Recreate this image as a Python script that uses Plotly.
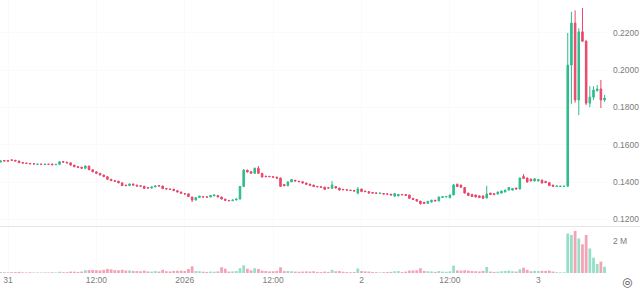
import pandas as pd
import plotly.graph_objects as go

start_time = "2025-12-30 23:00"
interval = "30min"

opens = [.1508,.1516,.1515,.1519,.1517,.1513,.1505,.1502,.1500,.1498,.1495,.1496,.1494,.1496,.1497,.1493,.1495,.1510,.1507,.1503,
         .1491,.1483,.1480,.1474,.1486,.1466,.1455,.1447,.1438,.1429,.1415,.1408,.1405,.1396,.1384,.1381,.1390,.1384,.1380,.1378,
         .1370,.1368,.1374,.1381,.1379,.1366,.1363,.1362,.1354,.1347,.1338,.1337,.1320,.1304,.1317,.1322,.1321,.1320,.1326,.1328,
         .1320,.1309,.1302,.1300,.1304,.1309,.1376,.1464,.1456,.1447,.1474,.1447,.1432,.1431,.1429,.1427,.1422,.1387,.1380,.1401,
         .1410,.1405,.1402,.1395,.1389,.1384,.1377,.1375,.1373,.1370,.1366,.1376,.1368,.1361,.1359,.1357,.1355,.1341,.1363,.1352,
         .1349,.1344,.1342,.1339,.1339,.1337,.1335,.1325,.1326,.1334,.1333,.1331,.1313,.1307,.1298,.1292,.1286,.1293,.1303,.1299,
         .1317,.1320,.1316,.1331,.1388,.1384,.1371,.1341,.1334,.1331,.1326,.1326,.1315,.1341,.1338,.1336,.1341,.1347,.1357,.1357,
         .1368,.1363,.1430,.1422,.1416,.1406,.1406,.1411,.1404,.1397,.1384,.1376,.1376,.1376,.1378,.2027,.2252,.1840,.2205,.2155,
         .1823,.1855,.1890,.1899,.1840]
highs = [.1516,.1518,.1517,.1520,.1518,.1514,.1506,.1503,.1501,.1499,.1498,.1497,.1497,.1497,.1498,.1496,.1512,.1511,.1508,.1504,
         .1492,.1484,.1481,.1490,.1487,.1467,.1456,.1448,.1439,.1430,.1416,.1409,.1406,.1397,.1385,.1392,.1391,.1385,.1381,.1379,
         .1371,.1375,.1381,.1382,.1380,.1367,.1364,.1363,.1355,.1348,.1339,.1338,.1321,.1318,.1327,.1323,.1322,.1329,.1332,.1329,
         .1321,.1310,.1303,.1306,.1311,.1378,.1470,.1466,.1458,.1478,.1486,.1448,.1433,.1432,.1430,.1428,.1423,.1388,.1404,.1416,
         .1411,.1406,.1403,.1396,.1390,.1385,.1378,.1376,.1374,.1371,.1406,.1377,.1369,.1362,.1360,.1358,.1356,.1374,.1364,.1353,
         .1350,.1345,.1343,.1342,.1340,.1338,.1336,.1342,.1336,.1335,.1334,.1332,.1314,.1308,.1299,.1293,.1299,.1305,.1304,.1322,
         .1324,.1325,.1333,.1390,.1392,.1386,.1372,.1342,.1335,.1332,.1327,.1327,.1380,.1342,.1339,.1349,.1354,.1359,.1373,.1368,
         .1370,.1424,.1443,.1424,.1418,.1420,.1416,.1413,.1406,.1398,.1385,.1380,.1380,.1379,.2199,.2313,.2320,.2225,.2333,.2160,
         .1914,.1914,.1920,.1947,.1867]
lows = [.1505,.1511,.1511,.1515,.1511,.1502,.1500,.1498,.1496,.1495,.1494,.1494,.1493,.1494,.1492,.1492,.1494,.1505,.1501,.1489,
        .1480,.1477,.1472,.1470,.1464,.1453,.1445,.1436,.1427,.1413,.1405,.1403,.1394,.1379,.1379,.1380,.1382,.1377,.1376,.1364,
        .1366,.1366,.1373,.1377,.1363,.1361,.1359,.1352,.1345,.1338,.1334,.1320,.1293,.1302,.1315,.1318,.1317,.1319,.1325,.1318,
        .1307,.1300,.1298,.1299,.1303,.1307,.1374,.1452,.1445,.1446,.1445,.1425,.1427,.1427,.1424,.1419,.1374,.1379,.1378,.1400,
        .1404,.1400,.1393,.1386,.1381,.1374,.1373,.1370,.1359,.1366,.1363,.1366,.1355,.1357,.1355,.1353,.1350,.1334,.1347,.1347,
        .1339,.1339,.1338,.1338,.1334,.1333,.1329,.1320,.1324,.1330,.1327,.1311,.1306,.1296,.1280,.1283,.1284,.1291,.1297,.1297,
        .1315,.1318,.1314,.1329,.1374,.1370,.1339,.1326,.1320,.1318,.1315,.1311,.1313,.1330,.1331,.1334,.1339,.1345,.1355,.1355,
        .1361,.1361,.1417,.1398,.1404,.1404,.1404,.1393,.1395,.1379,.1375,.1374,.1375,.1375,.1376,.1820,.1825,.1759,.2150,.1813,
        .1801,.1840,.1885,.1797,.1830]
closes = [.1513,.1513,.1513,.1517,.1513,.1504,.1502,.1500,.1498,.1497,.1496,.1495,.1496,.1495,.1493,.1495,.1509,.1507,.1503,.1491,
          .1482,.1479,.1474,.1486,.1466,.1455,.1447,.1438,.1429,.1415,.1408,.1405,.1396,.1381,.1381,.1390,.1384,.1379,.1378,.1366,
          .1368,.1374,.1379,.1379,.1365,.1363,.1361,.1354,.1347,.1340,.1336,.1322,.1304,.1317,.1325,.1320,.1319,.1328,.1331,.1320,
          .1309,.1302,.1300,.1304,.1309,.1376,.1464,.1454,.1447,.1474,.1447,.1427,.1429,.1429,.1426,.1421,.1377,.1380,.1401,.1414,
          .1406,.1402,.1395,.1388,.1383,.1376,.1375,.1372,.1361,.1368,.1385,.1368,.1357,.1359,.1357,.1355,.1352,.1363,.1349,.1349,
          .1341,.1341,.1340,.1341,.1336,.1335,.1331,.1338,.1334,.1332,.1329,.1313,.1307,.1298,.1284,.1285,.1297,.1303,.1299,.1320,
          .1322,.1323,.1331,.1385,.1376,.1372,.1341,.1328,.1322,.1320,.1317,.1313,.1336,.1334,.1333,.1347,.1352,.1357,.1371,.1366,
          .1363,.1422,.1419,.1400,.1406,.1418,.1414,.1395,.1397,.1381,.1377,.1379,.1378,.1378,.2027,.2252,.1840,.2205,.2155,.1823,
          .1855,.1893,.1899,.1840,.1850]
volumes_k = [60,45,40,50,55,70,40,35,45,30,35,30,40,35,45,35,80,50,55,90,85,70,
             90,170,180,190,170,160,200,260,230,180,170,200,150,160,130,120,110,150,100,90,
             120,90,200,110,100,130,140,150,120,250,420,120,110,80,70,90,80,100,360,270,
             90,100,120,300,480,270,170,300,250,150,120,100,110,130,360,120,130,110,90,80,
             90,100,90,110,70,60,90,70,200,110,120,80,60,50,60,280,120,100,90,60,
             50,40,50,60,70,110,120,60,90,150,160,170,300,130,110,100,70,120,90,80,
             100,460,160,150,170,150,120,110,100,130,380,90,70,80,110,130,150,110,90,230,
             330,200,110,130,120,140,130,150,90,50,40,45,
             2480,2380,2640,2170,1810,2380,1540,960,560,710,390]

tick_times = ["2025-12-31 00:00", "2025-12-31 12:00", "2026-01-01 00:00", "2026-01-01 12:00",
              "2026-01-02 00:00", "2026-01-02 12:00", "2026-01-03 00:00"]
tick_labels = ["31", "12:00", "2026", "12:00", "2", "12:00", "3"]
price_ticks = [0.12, 0.14, 0.16, 0.18, 0.20, 0.22]
volume_ticks = [2_000_000]
volume_tick_labels = ["2 M"]

n = len(closes)
assert len(opens) == n and len(highs) == n and len(lows) == n and len(volumes_k) == n, (len(opens), len(highs), len(lows), n, len(volumes_k))

times = pd.date_range(start_time, periods=n, freq=interval)
volumes = [v * 1000 for v in volumes_k]

UP = "#2DBD8C"
DOWN = "#E9476B"
UP_V = "rgba(45,189,140,0.5)"
DOWN_V = "rgba(233,71,107,0.5)"
vol_colors = [UP_V if c >= o else DOWN_V for o, c in zip(opens, closes)]

fig = go.Figure()
fig.add_trace(go.Candlestick(
    x=times, open=opens, high=highs, low=lows, close=closes,
    increasing=dict(line=dict(color=UP, width=1), fillcolor=UP),
    decreasing=dict(line=dict(color=DOWN, width=1), fillcolor=DOWN),
    whiskerwidth=0, xaxis="x", yaxis="y", showlegend=False, hoverinfo="skip"))
fig.add_trace(go.Bar(
    x=times, y=volumes, marker=dict(color=vol_colors, line=dict(width=0)),
    xaxis="x", yaxis="y2", showlegend=False, hoverinfo="skip"))

FONT = "Liberation Sans, Arial, sans-serif"
LBL = "#7b7b7b"
GRID = "#fafafa"

fig.update_layout(
    width=640, height=291,
    margin=dict(l=0, r=33, t=0, b=18),
    paper_bgcolor="white", plot_bgcolor="white",
    bargap=0.25,
    boxgap=0.4,
    font=dict(family=FONT, size=8.5, color=LBL),
    xaxis=dict(
        type="date", anchor="y2",
        range=["2025-12-30 22:54:50", "2026-01-03 09:19:50"],
        tickmode="array", tickvals=tick_times, ticktext=tick_labels,
        showgrid=True, gridcolor=GRID, gridwidth=1,
        showline=False, zeroline=False, ticks="",
        rangeslider=dict(visible=False),
        tickfont=dict(family=FONT, size=8.5, color=LBL),
    ),
    yaxis=dict(
        domain=[0.172, 1], side="right", anchor="x",
        range=[0.11644, 0.23758],
        tickmode="array", tickvals=price_ticks, tickformat=".4f",
        showgrid=True, gridcolor=GRID, zeroline=False, showline=False, ticks="",
        ticklabelstandoff=5,
        tickfont=dict(family=FONT, size=8.5, color=LBL),
    ),
    yaxis2=dict(
        domain=[0, 0.168], side="right", anchor="x",
        range=[0, 2_875_000],
        tickmode="array", tickvals=volume_ticks, ticktext=volume_tick_labels,
        showgrid=False, zeroline=False, showline=False, ticks="",
        ticklabelstandoff=5,
        tickfont=dict(family=FONT, size=8.5, color=LBL),
    ),
    shapes=[dict(type="line", xref="paper", yref="paper",
                 x0=0, x1=640 / 607, y0=0.1703, y1=0.1703,
                 line=dict(color="#e6e6e6", width=1))],
    annotations=[dict(text="◎", xref="paper", yref="paper",
                      x=627 / 607, y=-9 / 273, xanchor="center", yanchor="middle",
                      showarrow=False, font=dict(family="DejaVu Sans", size=12, color="#555"))],
)

fig.write_html("out.html")
